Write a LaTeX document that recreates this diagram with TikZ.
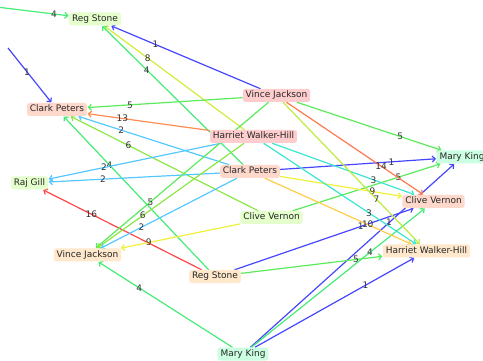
\documentclass[tikz,border=0pt]{standalone}
\usepackage{fontspec}
\setmainfont{DejaVu Sans}
\usetikzlibrary{arrows.meta,calc,backgrounds}
\definecolor{w1}{RGB}{70,70,255}
\definecolor{w2}{RGB}{85,200,255}
\definecolor{w3}{RGB}{60,228,210}
\definecolor{w4}{RGB}{70,235,120}
\definecolor{w5}{RGB}{90,235,90}
\definecolor{w6}{RGB}{140,230,70}
\definecolor{w7}{RGB}{190,235,60}
\definecolor{w8}{RGB}{210,235,60}
\definecolor{w9}{RGB}{240,240,60}
\definecolor{w10}{RGB}{255,205,70}
\definecolor{w13}{RGB}{255,140,80}
\definecolor{w14}{RGB}{255,120,80}
\definecolor{w16}{RGB}{255,70,70}
\definecolor{cP}{RGB}{255,205,205}
\definecolor{cK}{RGB}{255,216,204}
\definecolor{cG}{RGB}{228,255,204}
\definecolor{cO}{RGB}{255,232,204}
\definecolor{cM}{RGB}{204,255,226}
\tikzset{
  nd/.style={rounded corners=2.5pt, inner xsep=2.8pt, inner ysep=0pt,
    text height=7pt, text depth=2pt, minimum height=13pt,
    font=\fontsize{9}{10}\selectfont, text=black!85},
  ed/.style={line width=1.2pt, -{Straight Barb[length=3pt,width=6pt]}, shorten >=0.5pt},
  lbl/.style={font=\fontsize{9}{10}\selectfont, text=black!80, inner sep=0pt},
}
\newcommand{\edg}[5][0.667]{\draw[ed,draw=#4] (#2) -- (#3) node[lbl,at={($(#2)!#1!(#3)$)}] {#5};}
\begin{document}
\begin{tikzpicture}[x=1pt,y=-1pt]
\useasboundingbox (0,0) rectangle (483,361);
\node[nd,fill=cG] (rsT) at (95,19) {Reg Stone};
\node[nd,fill=cK] (cpL) at (57,109.5) {Clark Peters};
\node[nd,fill=cP] (vjT) at (276.5,95.5) {Vince Jackson};
\node[nd,fill=cP] (hwM) at (253.5,136.5) {Harriet Walker-Hill};
\node[nd,fill=cK] (cpM) at (250,171.5) {Clark Peters};
\node[nd,fill=cG] (rg) at (29.5,183) {Raj Gill};
\node[nd,fill=cM] (mkR) at (462,157) {Mary King};
\node[nd,fill=cK] (cvR) at (433.5,201.5) {Clive Vernon};
\node[nd,fill=cG] (cvM) at (271.5,217.5) {Clive Vernon};
\node[nd,fill=cO] (vjL) at (87.5,255) {Vince Jackson};
\node[nd,fill=cO] (rsB) at (215,276.5) {Reg Stone};
\node[nd,fill=cO] (hwR) at (426.5,251) {Harriet Walker-Hill};
\node[nd,fill=cM] (mkB) at (243,354) {Mary King};
\coordinate (offA) at (-28,4);
\coordinate (offB) at (8,48);
\begin{pgfonlayer}{background}
\clip (0,0) rectangle (483,361);
\edg{offA}{rsT}{w4}{4}
\edg[0.39]{offB}{cpL}{w1}{1}
\edg{vjT}{rsT}{w1}{1}
\edg{hwM}{rsT}{w8}{8}
\edg{cpM}{rsT}{w4}{4}
\edg{vjT}{cpL}{w5}{5}
\edg{hwM}{cpL}{w13}{13}
\edg{cpM}{cpL}{w2}{2}
\edg{cvM}{cpL}{w6}{6}
\edg{rsB}{cpL}{w4}{4}
\edg{hwM}{rg}{w2}{2}
\edg{cpM}{rg}{w2}{2}
\edg{rsB}{rg}{w16}{16}
\edg{vjT}{vjL}{w5}{5}
\edg{hwM}{vjL}{w6}{6}
\edg{cpM}{vjL}{w2}{2}
\edg{cvM}{vjL}{w9}{9}
\edg{mkB}{vjL}{w4}{4}
\edg{vjT}{mkR}{w5}{5}
\edg{cpM}{mkR}{w1}{1}
\edg{cvM}{mkR}{w5}{5}
\edg{mkB}{mkR}{w1}{1}
\edg{vjT}{cvR}{w14}{14}
\edg{hwM}{cvR}{w3}{3}
\edg{cpM}{cvR}{w9}{9}
\edg{rsB}{cvR}{w1}{1}
\edg{mkB}{cvR}{w4}{4}
\edg{vjT}{hwR}{w7}{7}
\edg{hwM}{hwR}{w3}{3}
\edg{cpM}{hwR}{w10}{10}
\edg{rsB}{hwR}{w5}{5}
\edg{mkB}{hwR}{w1}{1}
\end{pgfonlayer}
\end{tikzpicture}
\end{document}
